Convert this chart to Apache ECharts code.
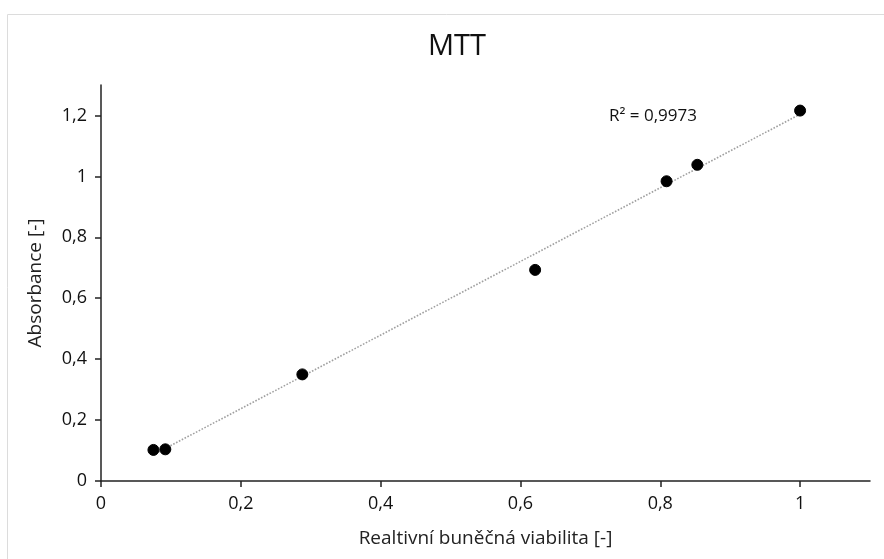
<!DOCTYPE html>
<html>
<head>
<meta charset="utf-8">
<script src="https://cdn.jsdelivr.net/npm/echarts@6/dist/echarts.min.js"></script>
<style>
  html, body { margin: 0; padding: 0; background: #fff; }
  #chart { width: 884px; height: 559px; }
</style>
</head>
<body>
<div id="chart"></div>
<script>
  // odečtené hodnoty z grafu
  var viabilita = [0.075, 0.092, 0.288, 0.621, 0.809, 0.853, 1.0];
  var absorbance = [0.102, 0.104, 0.350, 0.693, 0.984, 1.038, 1.216];
  var xTicks = [0, 0.2, 0.4, 0.6, 0.8, 1];
  var yTicks = [0, 0.2, 0.4, 0.6, 0.8, 1, 1.2];
  var r2Text = 'R² = 0,9973';

  var font = "'Open Sans', sans-serif";
  var comma = function (v) { return String(+v.toFixed(2)).replace('.', ','); };

  // lineární trend (nejmenší čtverce)
  var n = viabilita.length, sx = 0, sy = 0, sxx = 0, sxy = 0;
  for (var i = 0; i < n; i++) {
    sx += viabilita[i]; sy += absorbance[i];
    sxx += viabilita[i] * viabilita[i]; sxy += viabilita[i] * absorbance[i];
  }
  var k = (n * sxy - sx * sy) / (n * sxx - sx * sx);
  var q = (sy - k * sx) / n;
  var xMin = Math.min.apply(null, viabilita), xMax = Math.max.apply(null, viabilita);
  var trend = [[xMin, k * xMin + q], [xMax, k * xMax + q]];

  var chart = echarts.init(document.getElementById('chart'));
  chart.setOption({
    animation: false,
    title: {
      text: 'MTT',
      left: 452, top: 27, textAlign: 'center',
      textStyle: { fontFamily: font, fontSize: 29, fontWeight: 'normal', color: '#111' }
    },
    graphic: [
      { type: 'rect', shape: { x: 7.5, y: 14.5, width: 900, height: 600 },
        style: { fill: 'none', stroke: '#dcdcdc', lineWidth: 1 }, z: -1 },
      { type: 'text', left: 609, top: 108,
        style: { text: r2Text, fontFamily: font, fontSize: 17, fill: '#111' } }
    ],
    grid: { left: 101, right: 14, top: 85, bottom: 78 },
    xAxis: {
      type: 'value', min: 0, max: 1.1,
      name: 'Realtivní buněčná viabilita [-]',
      nameLocation: 'middle', nameGap: 48,
      nameTextStyle: { fontFamily: font, fontSize: 19, color: '#222' },
      axisLine: { show: true, lineStyle: { color: '#222', width: 1.5 } },
      axisTick: { show: true, length: 6, customValues: xTicks, lineStyle: { color: '#222', width: 1.5 } },
      axisLabel: { customValues: xTicks, formatter: comma, margin: 14,
        fontFamily: font, fontSize: 18, color: '#111' },
      splitLine: { show: false }
    },
    yAxis: {
      type: 'value', min: 0, max: 1.3,
      name: 'Absorbance [-]',
      nameLocation: 'middle', nameGap: 56,
      nameTextStyle: { fontFamily: font, fontSize: 19, color: '#222' },
      axisLine: { show: true, lineStyle: { color: '#222', width: 1.5 } },
      axisTick: { show: true, length: 6, customValues: yTicks, lineStyle: { color: '#222', width: 1.5 } },
      axisLabel: { customValues: yTicks, formatter: comma, margin: 14,
        fontFamily: font, fontSize: 18, color: '#111' },
      splitLine: { show: false }
    },
    series: [
      {
        type: 'line', data: trend, symbol: 'none', silent: true,
        lineStyle: { color: '#a0a0a0', width: 1.6, type: 'dotted' }
      },
      {
        type: 'scatter',
        data: viabilita.map(function (x, i) { return [x, absorbance[i]]; }),
        symbol: 'circle', symbolSize: 11,
        itemStyle: { color: '#000', borderColor: '#000', borderWidth: 1, opacity: 1 },
        z: 3
      }
    ]
  });
</script>
</body>
</html>
